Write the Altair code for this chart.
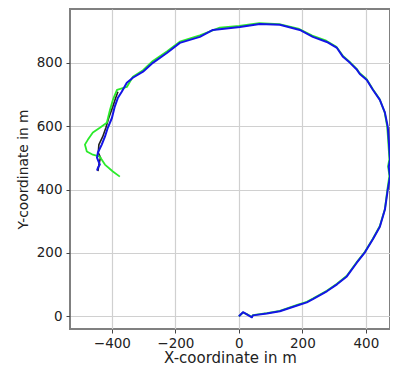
import altair as alt
import pandas as pd

# blue trajectory
blue_x = [0, 13, 25, 41, 44, 88, 129, 186, 214, 233, 277, 309, 340, 372, 397, 422, 444, 460, 469, 476, 472, 476, 472, 469, 460, 444, 422, 403, 381, 372, 350, 328, 309, 277, 233, 192, 129, 66, 3, -82, -123, -186, -227, -271, -302, -334, -353, -369, -381, -391, -400, -413, -422, -432, -444, -447, -438, -444, -447]
blue_y = [0, 13, 6, -3, 3, 9, 16, 35, 44, 54, 79, 101, 126, 170, 202, 243, 283, 337, 400, 441, 472, 494, 557, 598, 643, 683, 715, 746, 765, 778, 800, 819, 847, 866, 882, 904, 920, 923, 913, 904, 882, 863, 831, 800, 772, 753, 737, 709, 690, 662, 626, 595, 567, 542, 517, 501, 479, 469, 460]

# green trajectory
green_x = [0, 13, 25, 41, 44, 88, 129, 186, 214, 233, 277, 309, 340, 372, 397, 422, 444, 460, 468, 474, 470, 474, 470, 467, 459, 443, 421, 402, 380, 371, 349, 327, 307, 275, 231, 190, 127, 64, 1, -60, -123, -186, -227, -271, -302, -334, -353, -384, -397, -406, -416, -438, -460, -476, -485, -479, -460, -438, -422, -397, -375, -353]
green_y = [0, 12, 7, -2, 4, 10, 17, 37, 46, 56, 81, 103, 128, 172, 204, 245, 285, 339, 402, 443, 474, 496, 559, 600, 645, 686, 718, 749, 768, 781, 803, 823, 851, 870, 886, 907, 922, 925, 917, 911, 887, 867, 836, 806, 777, 756, 724, 715, 683, 652, 611, 595, 580, 557, 542, 520, 510, 504, 479, 457, 441]

# black reference trajectory (mostly hidden below blue)
black_x = [-381, -388, -397, -410, -419, -429, -441, -443, -436, -441, -444]
black_y = [709, 690, 662, 626, 595, 567, 542, 517, 501, 479, 458]

rows = []
for i, (x, y) in enumerate(zip(black_x, black_y)):
    rows.append({"x": x, "y": y, "s": "black", "o": i})
for i, (x, y) in enumerate(zip(green_x, green_y)):
    rows.append({"x": x, "y": y, "s": "green", "o": i})
for i, (x, y) in enumerate(zip(blue_x, blue_y)):
    rows.append({"x": x, "y": y, "s": "blue", "o": i})
df = pd.DataFrame(rows)

xscale = alt.Scale(domain=[-532, 476], nice=False, zero=False)
yscale = alt.Scale(domain=[-40, 970], nice=False, zero=False)

common = dict(grid=True, gridColor="#d0d0d0", gridWidth=1.2,
              domain=False, tickColor="#444444", tickSize=4, tickWidth=1,
              labelFontSize=13.5, labelColor="#222222", titleColor="#222222",
              titleFontWeight="normal", labelFont="DejaVu Sans", titleFont="DejaVu Sans")

xaxis = alt.Axis(title="X-coordinate in m", values=[-400, -200, 0, 200, 400],
                 labelPadding=3, titleFontSize=15, titlePadding=1, **common)
yaxis = alt.Axis(title="Y-coordinate in m", values=[0, 200, 400, 600, 800],
                 labelPadding=4, titleFontSize=13.8, titlePadding=6, **common)

def line(series, color, width):
    return alt.Chart(df).transform_filter(alt.datum.s == series).mark_line(
        color=color, strokeWidth=width, clip=False, strokeJoin="round").encode(
        x=alt.X("x:Q", scale=xscale, axis=xaxis),
        y=alt.Y("y:Q", scale=yscale, axis=yaxis),
        order="o:Q")

chart = alt.layer(
    line("black", "#222222", 1.6),
    line("green", "#2bea2b", 1.8),
    line("blue", "#1414e6", 2.0),
).properties(
    width=320, height=320,
    autosize=alt.AutoSizeParams(type="none"),
    padding={"left": 62, "top": 1, "right": 0, "bottom": 37},
).configure_view(stroke="#808080", strokeWidth=2)

chart.save("out.html", embed_options={"renderer": "svg", "actions": False})
